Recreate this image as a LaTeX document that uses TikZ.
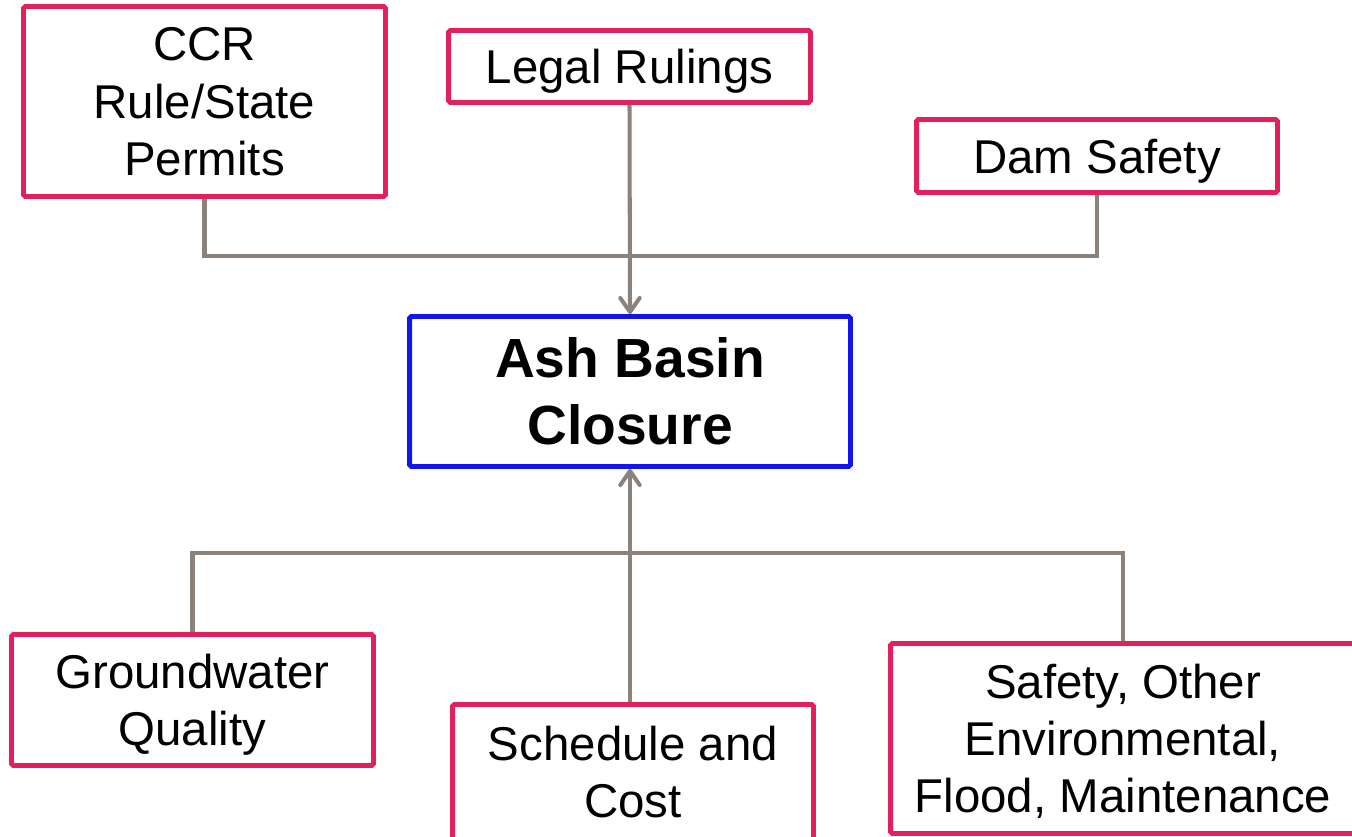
\documentclass[tikz,border=0pt]{standalone}
\usepackage{fontspec}
\setmainfont{Liberation Sans}
\usetikzlibrary{arrows.meta}
\definecolor{boxpink}{RGB}{226,32,92}
\definecolor{linkgray}{RGB}{140,130,122}
\definecolor{mainblue}{RGB}{20,20,240}
\begin{document}
\begin{tikzpicture}[x=0.02cm,y=-0.02cm,
  factor/.style={draw=boxpink, line width=2.8pt, rounded corners=1pt, align=center,
    inner sep=0pt, text depth=0pt, font=\fontsize{27}{32.5}\selectfont},
  goal/.style={draw=mainblue, line width=2.8pt, rounded corners=1pt, align=center,
    inner sep=0pt, font=\fontsize{31.4}{38}\selectfont\bfseries},
  link/.style={draw=linkgray, line width=2.3pt},
  linkarrow/.style={link, -{Straight Barb[length=8pt,width=11pt,round]}}]
\clip (0,0) rectangle (1352,836);

% central goal
\node[goal, minimum width=8.82cm, minimum height=3.0cm] (ash) at (630,391.5) {Ash Basin\\Closure};

% upper factors
\node[factor, minimum width=7.24cm, minimum height=3.8cm] (ccr) at (204.5,101.5) {CCR\\Rule/State\\Permits};
\node[factor, minimum width=7.24cm, minimum height=1.44cm] (legal) at (629.5,66.5) {Legal Rulings};
\node[factor, minimum width=7.22cm, minimum height=1.46cm] (dam) at (1097,156) {Dam Safety};

% lower factors
\node[factor, minimum width=7.24cm, minimum height=2.62cm] (gw) at (192.5,700) {Groundwater\\Quality};
\node[factor, minimum width=7.22cm, minimum height=2.7cm] (sched) at (633,772) {Schedule and\\Cost};
\node[factor, minimum width=9.3cm, minimum height=3.8cm] (safety) at (1123,738.5) {Safety, Other\\Environmental,\\Flood, Maintenance};

% upper connectors
\coordinate (topbus) at (630,256);
\draw[link] (ccr.south) |- (topbus) -| (dam.south);
\draw[linkarrow] (legal.south) -- (ash.north);

% lower connectors
\coordinate (lowbus) at (630,553);
\draw[link] (gw.north) |- (lowbus) -| (safety.north);
\draw[linkarrow] (ash.south |- sched.north) -- (ash.south);
\end{tikzpicture}
\end{document}
